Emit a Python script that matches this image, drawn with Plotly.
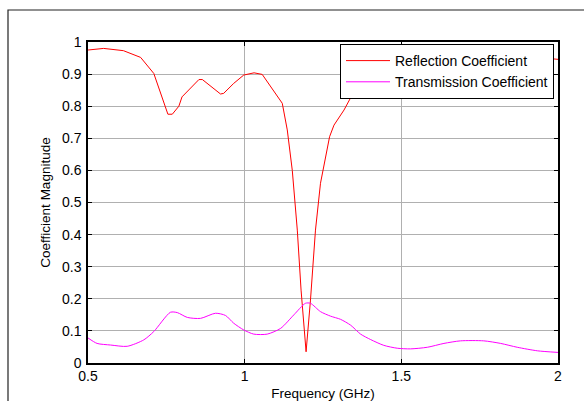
import plotly.graph_objects as go

# Reflection coefficient (red)
refl_freq = [0.50, 0.55, 0.613, 0.668, 0.71, 0.755, 0.769, 0.79, 0.80, 0.854, 0.865,
             0.923, 0.933, 0.965, 0.997, 1.03, 1.056, 1.098, 1.12, 1.136, 1.152, 1.168,
             1.18, 1.196, 1.21, 1.226, 1.242, 1.271, 1.285, 1.317, 1.338, 1.354, 1.40,
             1.50, 1.60, 1.75, 1.90, 2.00]
refl_vals = [0.975, 0.98, 0.973, 0.952, 0.902, 0.775, 0.775, 0.80, 0.829, 0.883, 0.883,
             0.838, 0.84, 0.871, 0.897, 0.904, 0.899, 0.84, 0.809, 0.726, 0.60, 0.414,
             0.227, 0.035, 0.196, 0.414, 0.56, 0.705, 0.741, 0.788, 0.824, 0.855, 0.90,
             0.94, 0.955, 0.96, 0.955, 0.946]

# Transmission coefficient (magenta)
trans_freq = [0.50, 0.529, 0.572, 0.625, 0.678, 0.71, 0.763, 0.785, 0.817, 0.859, 0.907,
              0.939, 0.965, 0.997, 1.029, 1.072, 1.115, 1.157, 1.194, 1.21, 1.242, 1.274,
              1.306, 1.338, 1.37, 1.402, 1.444, 1.487, 1.529, 1.583, 1.636, 1.689, 1.763,
              1.817, 1.87, 1.934, 2.0]
trans_vals = [0.078, 0.061, 0.056, 0.052, 0.072, 0.098, 0.158, 0.157, 0.142, 0.139, 0.155,
              0.148, 0.124, 0.103, 0.09, 0.09, 0.108, 0.15, 0.186, 0.186, 0.16, 0.146,
              0.136, 0.118, 0.09, 0.073, 0.055, 0.046, 0.044, 0.049, 0.061, 0.069, 0.069,
              0.061, 0.049, 0.038, 0.033]

x_ticks = [0.5, 1, 1.5, 2]
x_tick_labels = ["0.5", "1", "1.5", "2"]
y_ticks = [0, 0.1, 0.2, 0.3, 0.4, 0.5, 0.6, 0.7, 0.8, 0.9, 1]
y_tick_labels = ["0", "0.1", "0.2", "0.3", "0.4", "0.5", "0.6", "0.7", "0.8", "0.9", "1"]

FONT = "Liberation Sans, Arial, sans-serif"

W, H = 584, 401
# plot-area pixel box (margins are zero; axes placed by domain)
PL, PR, PT, PB = 88, 558, 42, 363

def fx(px):
    return px / W

def fy(py):
    return (H - py) / H

fig = go.Figure()
fig.add_trace(go.Scatter(x=refl_freq, y=refl_vals, mode="lines",
                         name="Reflection Coefficient",
                         line=dict(color="#ff0000", width=1)))
fig.add_trace(go.Scatter(x=trans_freq, y=trans_vals, mode="lines",
                         name="Transmission Coefficient",
                         line=dict(color="#ff00ff", width=1, shape="spline", smoothing=0.7)))

# outer figure frame (top and left edges) drawn on a hidden full-page pixel axis pair
fig.add_trace(go.Scatter(x=[W, 8, 8], y=[10, 10, H], mode="lines",
                         xaxis="x2", yaxis="y2", showlegend=False, hoverinfo="skip",
                         line=dict(color="#222222", width=1.2)))

fig.update_layout(
    width=W, height=H,
    margin=dict(l=0, r=0, t=0, b=0, pad=0, autoexpand=False),
    paper_bgcolor="white", plot_bgcolor="rgba(0,0,0,0)",
    font=dict(family=FONT, color="black", size=14),
    showlegend=True,
    legend=dict(x=fx(554), xanchor="right", y=fy(44), yanchor="top",
                bgcolor="white", bordercolor="black", borderwidth=1,
                font=dict(family=FONT, size=14), tracegroupgap=0, itemwidth=44),
    xaxis=dict(domain=[fx(PL), fx(PR)], range=[0.5, 2],
               tickvals=x_ticks, ticktext=x_tick_labels,
               showgrid=True, gridcolor="#b0b0b0", gridwidth=1,
               zeroline=False, showline=True, linecolor="black", linewidth=1.5,
               mirror="ticks", ticks="inside", ticklen=4, tickcolor="black",
               tickfont=dict(size=14), ticklabelstandoff=-1, automargin=False,
               title=dict(text="Frequency (GHz)", font=dict(size=13.5), standoff=8)),
    yaxis=dict(domain=[fy(PB), fy(PT)], range=[0, 1],
               tickvals=y_ticks, ticktext=y_tick_labels,
               showgrid=True, gridcolor="#b0b0b0", gridwidth=1,
               zeroline=False, showline=True, linecolor="black", linewidth=1.5,
               mirror="ticks", ticks="inside", ticklen=4, tickcolor="black",
               tickfont=dict(size=14), ticklabelstandoff=2, automargin=False,
               title=dict(text="Coefficient Magnitude", font=dict(size=13.5), standoff=8)),
    xaxis2=dict(domain=[0, 1], range=[0, W], visible=False, fixedrange=True,
                anchor="y2", showgrid=False, zeroline=False),
    yaxis2=dict(domain=[0, 1], range=[H, 0], visible=False, fixedrange=True,
                anchor="x2", showgrid=False, zeroline=False),
)

fig.write_html("out.html")
